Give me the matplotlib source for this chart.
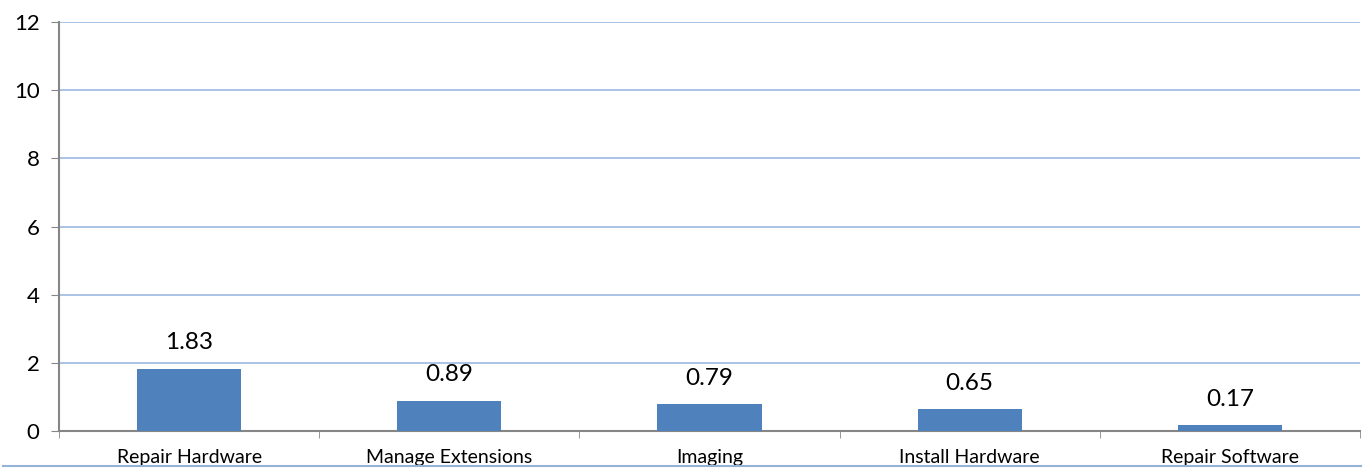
import numpy as np
import matplotlib
matplotlib.use('Agg')
import matplotlib.pyplot as plt
from matplotlib.lines import Line2D

categories = ['Repair Hardware', 'Manage Extensions', 'Imaging', 'Install Hardware', 'Repair Software']
values = [1.83, 0.89, 0.79, 0.65, 0.17]
yticks = [0, 2, 4, 6, 8, 10, 12]

plt.rcParams['font.family'] = ['Lato', 'DejaVu Sans']

fig = plt.figure(figsize=(13.64, 4.69), dpi=100)
ax = fig.add_axes([0.0433, 0.081, 0.9537, 0.872])

x = np.arange(len(categories))
bars = ax.bar(x, values, width=0.4, color='#4F81BD', zorder=3)

for xi, v in zip(x, values):
    ax.annotate(f'{v:.2f}', (xi, v), xytext=(0, 11), textcoords='offset points',
                ha='center', va='bottom', fontsize=17.5, color='black')

ax.set_xlim(-0.5, len(categories) - 0.5)
ax.set_ylim(0, 12)
ax.set_yticks(yticks)
ax.set_yticklabels([str(t) for t in yticks], fontsize=16)
ax.yaxis.grid(True, color='#9DB9E1', linewidth=1.2, zorder=0)

ax.set_xticks(x)
ax.set_xticklabels(categories, fontsize=14)
ax.tick_params(axis='x', which='major', length=0, pad=13)
ax.set_xticks(np.arange(-0.5, len(categories)), minor=True)
ax.tick_params(axis='x', which='minor', length=5, color='#868686', direction='out')
ax.tick_params(axis='y', length=6, color='#868686', direction='out', pad=8)

for side in ['top', 'right']:
    ax.spines[side].set_visible(False)
for side in ['left', 'bottom']:
    ax.spines[side].set_color('#868686')
    ax.spines[side].set_linewidth(1.5)

# thin border line at the bottom of the image
fig.add_artist(Line2D([0.002, 0.998], [0.006, 0.006], color='#95B3D7', linewidth=1.5))

fig.savefig('out.png', dpi=100)
